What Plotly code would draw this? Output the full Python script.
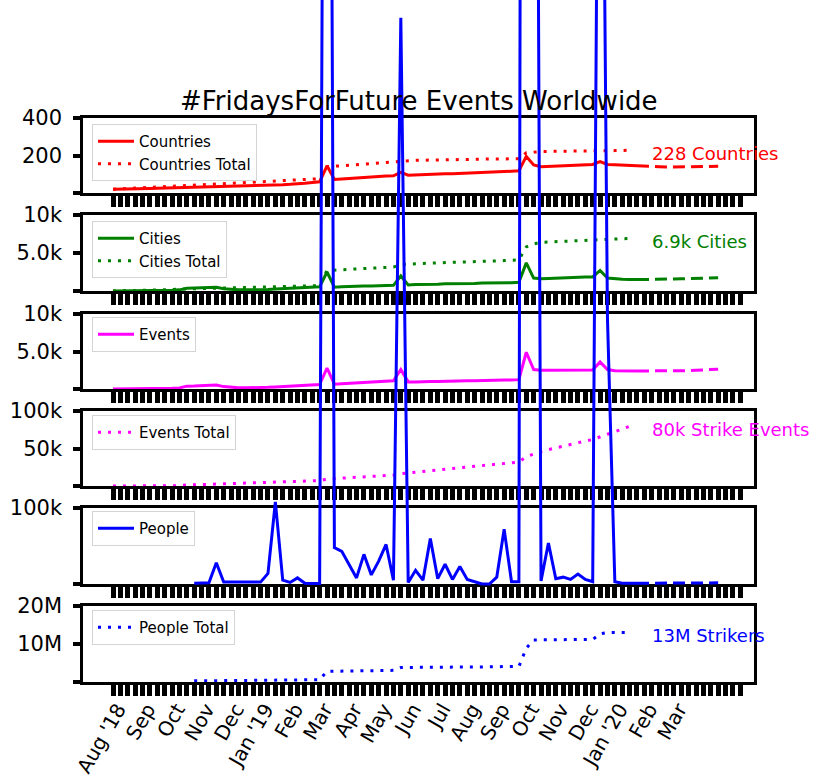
import plotly.graph_objects as go
import pandas as pd

# ---------------- data ----------------
weeks = pd.date_range("2018-08-24", periods=86, freq="7D")  # weekly Fridays

countries = [20, 20, 22, 22, 24, 24, 25, 26, 27, 28,
             28, 29, 30, 31, 32, 32, 33, 34, 35, 36,
             38, 40, 42, 44, 46, 48, 52, 56, 60,
             145,
             72, 75, 78, 80, 83, 86, 88, 90, 92,
             110,
             95, 97, 98, 100, 100, 102, 103, 104, 105, 106, 108, 110, 112, 114, 116, 118,
             195, 150,
             140, 142, 144, 146, 148, 150, 150, 152,
             168, 152,
             150, 148, 146, 145,
             142, 140, 140, 138, 138, 138, 138, 140, 140, 140, 142]

countries_total = [20, 22, 24, 26, 28, 30, 32, 34, 36, 38, 40, 42, 44, 46, 48, 50, 52, 54, 56, 58,
                   60, 62, 64, 66, 68, 70, 72, 74, 76,
                   140, 143, 146, 149, 152, 155, 158, 161, 164, 167, 172,
                   173, 174, 175, 176, 177, 178, 178, 179, 179, 180, 180, 181, 181, 182, 182, 183,
                   215, 220, 221, 222, 222, 223, 223, 224, 224, 225, 225, 226, 226, 227, 228]

cities = [10, 10, 15, 15, 20, 30, 40, 60, 100, 150,
          350, 380, 400, 420, 480, 300, 200, 150, 150, 150,
          180, 200, 250, 300, 400, 450, 500, 500, 550,
          2500,
          500, 550, 600, 600, 650, 650, 700, 700, 750,
          2000,
          800, 850, 850, 900, 900, 950, 950, 1000, 1000, 1000, 1050, 1050, 1100, 1100, 1100, 1150,
          3700, 1700,
          1600, 1650, 1700, 1700, 1750, 1800, 1850, 1850,
          2700, 1700,
          1600, 1550, 1500, 1500,
          1500, 1500, 1520, 1550, 1580, 1600, 1620, 1650, 1680, 1700, 1730]

cities_total = [10, 20, 35, 50, 70, 100, 130, 170, 210, 230, 250, 270, 290, 310, 330, 350, 370, 390, 410, 430,
                450, 480, 510, 540, 570, 600, 630, 660, 700,
                2700, 2750, 2800, 2850, 2900, 2950, 3000, 3050, 3100, 3150, 3500,
                3550, 3600, 3650, 3700, 3720, 3750, 3780, 3800, 3820, 3850, 3880, 3900, 3950, 4000, 4050, 4100,
                5800, 6200, 6400, 6450, 6500, 6550, 6600, 6650, 6700, 6720, 6750, 6800, 6850, 6880, 6900]

events = [10, 10, 15, 15, 20, 30, 40, 60, 100, 150,
          380, 400, 420, 450, 530, 320, 220, 160, 160, 160,
          200, 220, 280, 330, 450, 500, 550, 550, 600,
          2800,
          650, 700, 750, 800, 850, 900, 950, 1000, 1100,
          2600,
          950, 950, 1000, 1000, 1000, 1050, 1050, 1100, 1100, 1100, 1150, 1150, 1200, 1200, 1200, 1250,
          4900, 2600,
          2500, 2500, 2500, 2500, 2500, 2500, 2550, 2550,
          3600, 2600,
          2450, 2400, 2400, 2400,
          2400, 2400, 2350, 2350, 2400, 2400, 2450, 2500, 2550, 2600, 2650]

events_total = [10, 20, 35, 50, 70, 100, 140, 200, 300, 450, 1300, 1650, 2000, 2400, 2900, 3200,
                3450, 3650, 3850, 4050, 4300, 4550, 4850, 5200,
                5600, 6000, 6400, 6800, 7200,
                9300, 9900, 10500, 11100, 11700, 12300, 12800, 13300, 13900, 14500,
                16500,
                17500, 18500, 19400, 20300, 21200, 22100, 23000, 23900, 24800, 25700, 26700, 27700,
                28700, 29700, 30700, 32000,
                39000, 43000, 46000, 48500, 51000, 53500, 56000, 58000, 60000, 62000, 66000, 69000,
                72500, 76000, 79500]

people = [None] * 11 + [
          1000, 1000, 1500, 28000, 2500, 2500, 2500, 2500, 2500, 2500,
          14000, 108000, 5000, 2000, 8000, 1000, 500, 500,
          2300000,
          48000, 43000, 25000, 8000, 39000, 12000, 30000, 52000, 5000,
          745000,
          2000, 18000, 5000, 60000, 7000, 26000, 6000, 23000, 6000, 3000, 0, 0, 9000, 72000, 3000, 3000,
          4800000, 2200000,
          4000, 54000, 7000, 9000, 6000, 13000, 6000, 3000,
          1500000, 350000,
          3000, 1000, 1000, 1000,
          1000, 1000, 1000, 1000, 1000, 1000, 1000, 1000, 1000, 1500, 1500]

people_total = [None] * 11 + [
                300000, 310000, 320000, 350000, 360000, 370000, 380000, 390000, 400000, 410000,
                430000, 540000, 550000, 560000, 570000, 580000, 590000, 600000,
                2800000, 2850000, 2890000, 2920000, 2930000, 2970000, 2980000, 3010000, 3060000, 3070000,
                3820000,
                3820000, 3840000, 3850000, 3910000, 3920000, 3950000, 3960000, 3980000, 3990000, 3990000,
                3990000, 3990000, 4000000, 4070000, 4080000, 4080000,
                8880000, 11080000, 11090000, 11140000, 11150000, 11160000, 11170000, 11180000, 11190000,
                11190000, 12690000, 13040000, 13050000, 13050000, 13060000]

# month labels sit on every 4th weekly tick
label_weeks = weeks[0:80:4]
month_labels = ["Aug '18", "Sep", "Oct", "Nov", "Dec", "Jan '19", "Feb", "Mar", "Apr", "May", "Jun",
                "Jul", "Aug", "Sep", "Oct", "Nov", "Dec", "Jan '20", "Feb", "Mar"]

end_labels = ["228 Countries", "6.9k Cities", "80k Strike Events", "13M Strikers"]

# ---------------- style / layout ----------------
W, H = 815, 778
XL, XR = 83, 754
panels_px = [(118, 193), (215, 291), (314, 389), (411, 486), (508, 584), (606, 682)]


def px(x):
    return x / W


def py(y):
    return 1 - y / H


xdom = [px(XL), px(XR)]
ydoms = [[py(b), py(t)] for t, b in panels_px]
xrange_ = ["2018-07-26 13:00", "2020-04-23"]

RED, GREEN, MAG, BLUE = "#ff0000", "#008000", "#ff00ff", "#0000ff"
FONT = "DejaVu Sans"
SOLID_END = 72
DOT = "3px,7px"
DASH = "12px,6px"

fig = go.Figure()


def line(xs, ys, color, dash, name, legend, xa, ya, show=True):
    fig.add_trace(go.Scatter(x=list(xs), y=list(ys), mode="lines",
                             line=dict(color=color, width=3, dash=dash),
                             name=name, legend=legend, xaxis=xa, yaxis=ya,
                             showlegend=show, hoverinfo="skip"))


def weekly(values, color, name, legend, xa, ya):
    n = len(values)
    line(weeks[:SOLID_END], values[:SOLID_END], color, "solid", name, legend, xa, ya)
    line(weeks[SOLID_END - 1:n], values[SOLID_END - 1:n], color, DASH, name, legend, xa, ya, show=False)


def total(values, color, name, legend, xa, ya):
    line(weeks[:len(values)], values, color, DOT, name, legend, xa, ya)


weekly(countries, RED, "Countries", "legend", "x", "y")
total(countries_total, RED, "Countries Total", "legend", "x", "y")
weekly(cities, GREEN, "Cities", "legend2", "x2", "y2")
total(cities_total, GREEN, "Cities Total", "legend2", "x2", "y2")
weekly(events, MAG, "Events", "legend3", "x3", "y3")
total(events_total, MAG, "Events Total", "legend4", "x4", "y4")
fig.add_trace(go.Scatter(x=[None], y=[None], xaxis="x5", yaxis="y5", showlegend=False,
                         hoverinfo="skip"))
total(people_total, BLUE, "People Total", "legend6", "x6", "y6")
weekly(people, BLUE, "People", "legend5", "x5", "y7")

ytick_specs = [
    ([0, 200, 400], ["", "200", "400"], [0, 400]),
    ([0, 5000, 10000], ["", "5.0k", "10k"], [0, 10000]),
    ([0, 5000, 10000], ["", "5.0k", "10k"], [0, 10000]),
    ([0, 50000, 100000], ["", "50k", "100k"], [0, 100000]),
    ([0, 100000], ["", "100k"], [0, 100000]),
    ([0, 10000000, 20000000], ["", "10M", "20M"], [0, 20000000]),
]

layout = {}
for k in range(1, 7):
    sx = "" if k == 1 else str(k)
    xa = dict(domain=xdom, range=xrange_, type="date", anchor="y" + sx,
              showline=True, mirror=True, linecolor="black", linewidth=2.5,
              ticks="outside", tickvals=list(label_weeks), ticktext=month_labels,
              ticklen=11, tickwidth=4.5, tickcolor="black",
              showticklabels=(k == 6), tickangle=-60, ticklabelstandoff=-6, ticklabelshift=5,
              tickfont=dict(size=20, family=FONT, color="black"),
              minor=dict(tickmode="array", tickvals=list(weeks), ticks="outside",
                         ticklen=11, tickwidth=4.5, tickcolor="black", showgrid=False),
              showgrid=False, zeroline=False)
    if k > 1:
        xa["matches"] = "x"
    layout["xaxis" + sx] = xa
    tv, tt, rg = ytick_specs[k - 1]
    layout["yaxis" + sx] = dict(domain=ydoms[k - 1], range=rg, anchor="x" + sx,
                                showline=True, mirror=True, linecolor="black", linewidth=2.5,
                                ticks="outside", tickvals=tv, ticktext=tt, ticklen=7, tickwidth=4,
                                tickcolor="black", ticklabelstandoff=7,
                                tickfont=dict(size=21, family=FONT, color="black"),
                                showgrid=False, zeroline=False)

d5 = ydoms[4]
h5 = d5[1] - d5[0]
pad = 0.006
top_val = 100000 * (1 - d5[0]) / h5
layout["yaxis7"] = dict(domain=[d5[0] - pad, 1], range=[-100000 * pad / h5, top_val],
                        anchor="x5", visible=False, showgrid=False, zeroline=False)

legend_tops = [124, 221, 317, 415, 511, 610]
for i, t in enumerate(legend_tops):
    name = "legend" if i == 0 else "legend" + str(i + 1)
    layout[name] = dict(x=px(92), y=py(t), xanchor="left", yanchor="top",
                        bgcolor="rgba(255,255,255,0.85)", bordercolor="#d4d4d4", borderwidth=1,
                        font=dict(size=15, family=FONT, color="black"), itemwidth=36,
                        tracegroupgap=0)

annotations = [dict(text="#FridaysForFuture Events Worldwide", xref="paper", yref="paper",
                    x=px((XL + XR) / 2), y=py(101), xanchor="center", yanchor="middle",
                    showarrow=False, font=dict(size=26, family=FONT, color="black"))]
for txt, vals, col, xr, yr in [
        (end_labels[0], countries_total, RED, "x", "y"),
        (end_labels[1], cities_total, GREEN, "x2", "y2"),
        (end_labels[2], events_total, MAG, "x4", "y4"),
        (end_labels[3], people_total, BLUE, "x6", "y6")]:
    annotations.append(dict(text=txt, x=weeks[len(vals) - 1], y=vals[-1], xref=xr, yref=yr,
                            xanchor="left", yanchor="middle", xshift=20, yshift=-3,
                            showarrow=False, font=dict(size=18, family=FONT, color=col)))

fig.update_layout(width=W, height=H, margin=dict(l=0, r=0, t=0, b=0), template="none",
                  paper_bgcolor="white", plot_bgcolor="rgba(0,0,0,0)",
                  font=dict(family=FONT, color="black"), showlegend=True,
                  annotations=annotations, **layout)

fig.write_html("out.html", config={"displayModeBar": False},
               post_script="document.body.style.margin='0px';")
